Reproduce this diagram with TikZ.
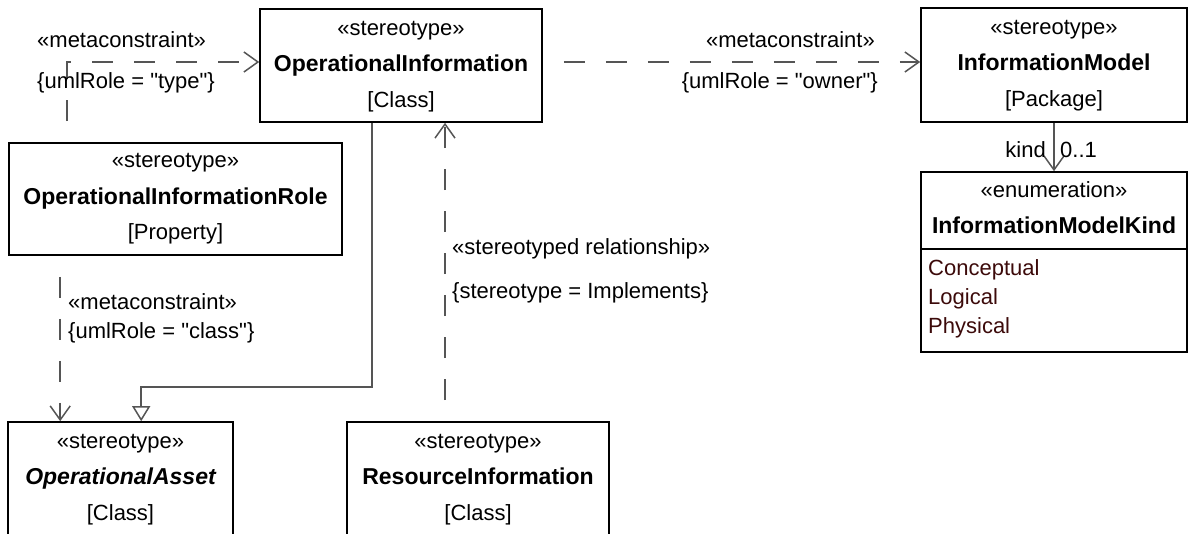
\documentclass[tikz,border=0pt]{standalone}
\usepackage{fontspec}
\setmainfont{Liberation Sans}[Ligatures=TeXOff]
\usetikzlibrary{arrows.meta}
\definecolor{lin}{HTML}{555555}
\definecolor{litc}{HTML}{3C0A0A}
\begin{document}
\begin{tikzpicture}[x=1pt,y=-1pt,
  box/.style={draw=black, line width=1.6pt, rectangle, inner sep=0pt},
  txt/.style={anchor=base, inner sep=0pt, font=\fontsize{22}{26}\selectfont},
  bold/.style={anchor=base, inner sep=0pt, font=\fontsize{23}{26}\selectfont\bfseries},
  lab/.style={txt, anchor=base west},
  labr/.style={txt, anchor=base east},
  lit/.style={txt, anchor=base west, text=litc},
  dep/.style={draw=lin, line width=1.5pt, dash pattern=on 21pt off 21pt, dash phase=21pt,
    -{Straight Barb[length=14pt,width=20pt,line width=1.5pt]}},
  assoc/.style={draw=lin, line width=1.5pt,
    -{Straight Barb[length=14pt,width=20pt,line width=1.5pt]}},
  gen/.style={draw=lin, line width=1.5pt,
    -{Triangle[open,length=15pt,width=18pt,line width=1.5pt]}}
]
\useasboundingbox (0,0) rectangle (1188,533);
\clip (0,0) rectangle (1188,533);

% boxes
\node[box, minimum width=282pt, minimum height=113pt] (oi) at (401,65.5) {};
\node[txt]  (oi1) at (401,35) {«stereotype»};
\node[bold] (oi2) at (401,71) {OperationalInformation};
\node[txt]  (oi3) at (401,107) {[Class]};

\node[box, minimum width=266pt, minimum height=114pt] (im) at (1054,65) {};
\node[txt]  (im1) at (1054,34) {«stereotype»};
\node[bold] (im2) at (1054,70) {InformationModel};
\node[txt]  (im3) at (1054,106) {[Package]};

\node[box, minimum width=333pt, minimum height=112pt] (oir) at (175.5,199) {};
\node[txt]  (oir1) at (175.5,167) {«stereotype»};
\node[bold] (oir2) at (175.5,204) {OperationalInformationRole};
\node[txt]  (oir3) at (175.5,239) {[Property]};

\node[box, minimum width=225pt, minimum height=124pt] (oa) at (120.5,484) {};
\node[txt]  (oa1) at (120.5,448) {«stereotype»};
\node[bold, font=\fontsize{23}{26}\selectfont\bfseries\itshape] (oa2) at (120.5,484) {OperationalAsset};
\node[txt]  (oa3) at (120.5,520) {[Class]};

\node[box, minimum width=262pt, minimum height=124pt] (ri) at (478,484) {};
\node[txt]  (ri1) at (478,448) {«stereotype»};
\node[bold] (ri2) at (478,484) {ResourceInformation};
\node[txt]  (ri3) at (478,520) {[Class]};

\node[box, minimum width=266pt, minimum height=180pt] (en) at (1054,262) {};
\node[txt]  (en1) at (1054,197) {«enumeration»};
\node[bold] (en2) at (1054,233) {InformationModelKind};
\draw[line width=1.6pt] (en.west |- 0,249) -- (en.east |- 0,249);
\node[lit] (l1) at (928,275) {Conceptual};
\node[lit] (l2) at (928,304) {Logical};
\node[lit] (l3) at (928,333) {Physical};

% connectors
\draw[dep] ([xshift=59pt]oir.north west) |- ([yshift=3.5pt]oi.west);
\draw[dep] ([yshift=3.5pt]oi.east) -- ([yshift=3pt]im.west);
\draw[assoc] (im.south) -- (en.north);
\draw[dep] ([xshift=53pt]oa.north west |- oir.south) -- ([xshift=53pt]oa.north west);
\draw[gen] ([xshift=-29pt]oi.south) -- ++(0,264) -| ([xshift=134pt]oa.north west);
\draw[dep] ([xshift=-33pt]ri.north) -- ([xshift=-33pt]ri.north |- oi.south);

% labels
\node[lab]  (m1) at (37,47) {«metaconstraint»};
\node[lab]  (r1) at (37,88) {\{umlRole = "type"\}};
\node[labr] (m2) at (875,47) {«metaconstraint»};
\node[labr] (r2) at (878,88) {\{umlRole = "owner"\}};
\node[labr] (kd) at (1046,157) {kind};
\node[lab]  (mu) at (1060,157) {0..1};
\node[lab]  (m3) at (68,309) {«metaconstraint»};
\node[lab]  (r3) at (68,338) {\{umlRole = "class"\}};
\node[lab]  (s4) at (452,254) {«stereotyped relationship»};
\node[lab]  (r4) at (452,298) {\{stereotype = Implements\}};
\end{tikzpicture}
\end{document}
